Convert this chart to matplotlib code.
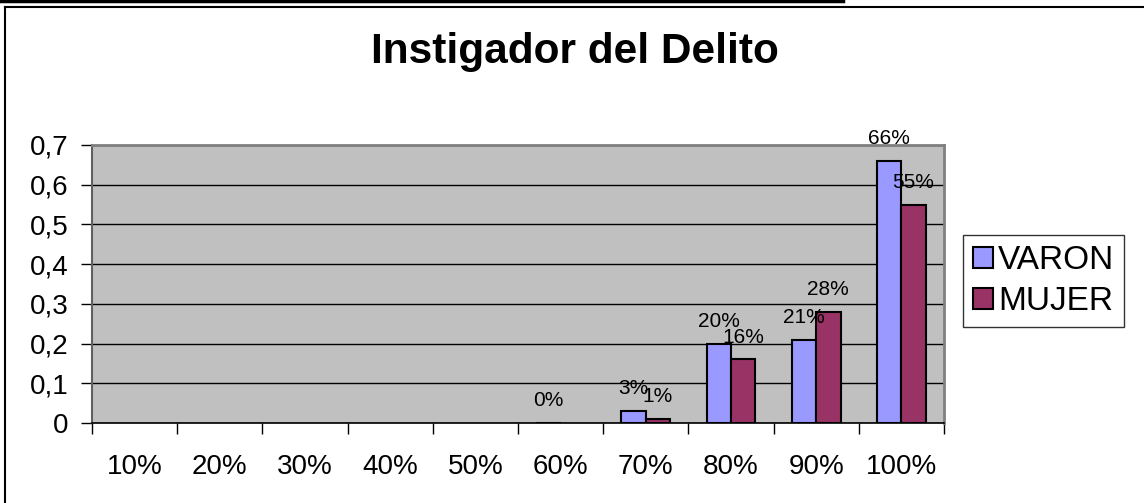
import matplotlib.pyplot as plt
import numpy as np
from matplotlib.lines import Line2D

plt.rcParams['font.family'] = ['Liberation Sans', 'DejaVu Sans']

categorias = ['10%', '20%', '30%', '40%', '50%', '60%', '70%', '80%', '90%', '100%']
varon = [np.nan, np.nan, np.nan, np.nan, np.nan, 0.0, 0.03, 0.20, 0.21, 0.66]
mujer = [np.nan, np.nan, np.nan, np.nan, np.nan, np.nan, 0.01, 0.16, 0.28, 0.55]
series = ['VARON', 'MUJER']
colores = ['#9999FF', '#993366']
yticks = [0, 0.1, 0.2, 0.3, 0.4, 0.5, 0.6, 0.7]

W, H = 1144, 503
fig = plt.figure(figsize=(W / 100, H / 100), dpi=100)
ax = fig.add_axes([92 / W, 1 - 423 / H, (944 - 92) / W, (423 - 145) / H])
ax.set_facecolor('#C0C0C0')

x = np.arange(len(categorias))
ancho = 1 / 3.5
for i, (vals, nombre, col) in enumerate(zip([varon, mujer], series, colores)):
    pos = x + (i - 0.5) * ancho
    alturas = np.array(vals, dtype=float)
    ax.bar(pos, alturas, width=ancho, color=col, edgecolor='black', linewidth=1.5,
           label=nombre, zorder=3)
    for xp, v in zip(pos, vals):
        if not np.isnan(v):
            ax.annotate(f'{v * 100:.0f}%', (xp, v), xytext=(0, 12), textcoords='offset points',
                        ha='center', va='baseline', fontsize=15, zorder=4)

ax.set_xlim(-0.5, len(categorias) - 0.5)
ax.set_ylim(0, 0.7)
ax.set_yticks(yticks)
ax.set_yticklabels([('%g' % t).replace('.', ',') for t in yticks], fontsize=20)
ax.yaxis.grid(True, color='black', linewidth=1.0, zorder=1)
ax.set_axisbelow(True)
ax.tick_params(axis='y', length=8, width=1, pad=9, color='black')

ax.set_xticks(x)
ax.set_xticklabels(categorias, fontsize=20)
ax.set_xticks(np.arange(-0.5, len(categorias)), minor=True)
ax.tick_params(axis='x', which='major', length=0, pad=22)
ax.tick_params(axis='x', which='minor', length=8, width=1, color='black')

ax.spines['top'].set_color('#808080')
ax.spines['top'].set_linewidth(2)
ax.spines['right'].set_color('#808080')
ax.spines['right'].set_linewidth(2)
ax.spines['left'].set_color('#606060')
ax.spines['left'].set_linewidth(1.5)
ax.spines['bottom'].set_color('black')
ax.spines['bottom'].set_linewidth(1.2)

fig.text(575 / W, 1 - 63 / H, 'Instigador del Delito', ha='center', va='baseline',
         fontsize=30.5, fontweight='bold')

leg = fig.legend(loc='center left', bbox_to_anchor=(963 / W, 1 - 281 / H), fontsize=24,
                 frameon=True, fancybox=False, edgecolor='black', handlelength=0.6,
                 handleheight=0.6, handletextpad=0.15, borderpad=0.3, labelspacing=0.3,
                 borderaxespad=0)
leg.get_frame().set_linewidth(1)

# marco del grafico
fig.add_artist(Line2D([5 / W, 5 / W], [0, 1 - 7 / H], color='black', linewidth=1.5))
fig.add_artist(Line2D([5 / W, 1], [1 - 7 / H, 1 - 7 / H], color='black', linewidth=1.5))
fig.add_artist(Line2D([0, 843 / W], [1 - 1 / H, 1 - 1 / H], color='black', linewidth=2.5))

fig.savefig('out.png', dpi=100)
